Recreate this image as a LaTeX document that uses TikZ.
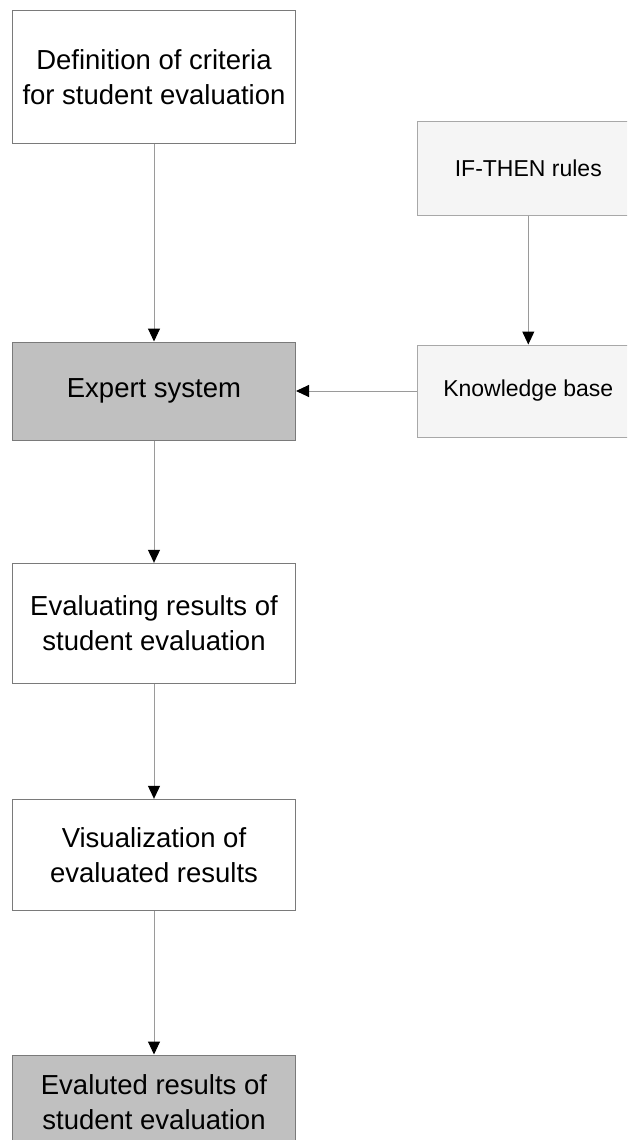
\documentclass[tikz,border=0pt]{standalone}
\usepackage{fontspec}
\setmainfont{Liberation Sans}
\usetikzlibrary{arrows.meta}
\definecolor{boxline}{HTML}{7A7A7A}
\definecolor{lightline}{HTML}{A8A8A8}
\definecolor{conn}{HTML}{9A9A9A}
\definecolor{darkfill}{HTML}{C0C0C0}
\definecolor{lightfill}{HTML}{F5F5F5}
\tikzset{
  mainbox/.style={draw=boxline, line width=1pt, fill=white, minimum width=283pt, inner sep=0pt, align=center, font=\fontsize{27.5}{34.5}\selectfont, text=black},
  darkbox/.style={mainbox, fill=darkfill},
  sidebox/.style={draw=lightline, line width=1pt, fill=lightfill, minimum width=222pt, inner sep=0pt, align=center, font=\fontsize{23}{28}\selectfont, text=black},
  arr/.style={draw=conn, line width=1pt, -{Triangle[length=13pt,width=12pt,fill=black,color=black]}}
}
\begin{document}
\begin{tikzpicture}[x=1pt,y=-1pt]
\useasboundingbox (0,0) rectangle (627,1140);
\clip (0,0) rectangle (627,1140);
\fill[white] (0,0) rectangle (627,1140);
\node[mainbox, minimum height=133pt] (def) at (154,77.3) {Definition of criteria\\for student evaluation};
\node[darkbox, minimum height=98pt] (exp) at (154,391) {Expert system};
\node[mainbox, minimum height=120pt] (evr) at (154,623.3) {Evaluating results of\\student evaluation};
\node[mainbox, minimum height=111.4pt] (vis) at (154,855) {Visualization of\\evaluated results};
\node[darkbox, minimum height=94pt] (res) at (154,1102) {Evaluted results of\\student evaluation};
\node[sidebox, minimum height=94pt] (ift) at (528.3,168) {IF-THEN rules};
\node[sidebox, minimum height=92pt] (kb) at (528.3,391) {Knowledge base};
\draw[arr] (def) -- (exp);
\draw[arr] (ift) -- (kb);
\draw[arr] (kb) -- (exp);
\draw[arr] (exp) -- (evr);
\draw[arr] (evr) -- (vis);
\draw[arr] (vis) -- (res);
\end{tikzpicture}
\end{document}
